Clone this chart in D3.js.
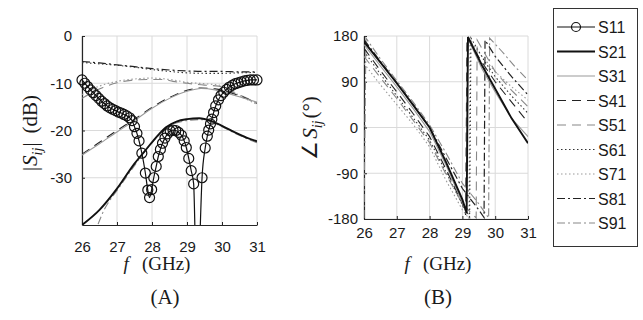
<html>
<head>
<script src="https://d3js.org/d3.v7.min.js"></script>
<style>
  body { margin: 0; background: #fff; }
  svg { display: block; }
  .tick text { font-family: "Liberation Sans", Arial, sans-serif; font-size: 15px; fill: #1a1a1a; }
  .ttl { font-family: "Liberation Serif", "Times New Roman", serif; font-size: 19px; fill: #1a1a1a; }
  .big { font-family: "Liberation Serif", "Times New Roman", serif; font-size: 21px; fill: #1a1a1a; }
  .leg { font-family: "Liberation Sans", Arial, sans-serif; font-size: 16px; fill: #1a1a1a; }
</style>
</head>
<body>
<div id="chart"></div>
<script>
// ---- data ----
var xTicks = [26, 27, 28, 29, 30, 31];
var magTicks = [0, -10, -20, -30];
var phaseTicks = [180, 90, 0, -90, -180];
var names = ["S11", "S21", "S31", "S41", "S51", "S61", "S71", "S81", "S91"];

// |S11| in dB, drawn with circles
var freqS11 = [26.00, 26.08, 26.16, 26.24, 26.32, 26.40, 26.48, 26.56, 26.64, 26.72,
  26.80, 26.88, 26.96, 27.04, 27.12, 27.20, 27.28, 27.36, 27.43, 27.50,
  27.57, 27.63, 27.71, 27.81, 27.88, 27.93, 27.99, 28.05, 28.12, 28.18,
  28.24, 28.30, 28.37, 28.44, 28.52, 28.60, 28.68, 28.76, 28.84, 28.92,
  28.98, 29.05, 29.12, 29.19, 29.24, 29.28, 29.32, 29.36, 29.43, 29.52,
  29.58, 29.62, 29.67, 29.71, 29.76, 29.82, 29.90, 29.97, 30.05, 30.13,
  30.21, 30.30, 30.38, 30.46, 30.55, 30.64, 30.72, 30.81, 30.90, 31.00];
var magS11 = [-9.3, -10.0, -10.7, -11.4, -12.0, -12.6, -13.2, -13.8, -14.3, -14.8,
  -15.2, -15.5, -15.8, -16.1, -16.3, -16.6, -16.9, -17.3, -17.9, -19.2,
  -20.6, -22.2, -24.8, -29.0, -32.6, -34.2, -32.5, -30.0, -27.6, -25.5,
  -24.0, -22.7, -21.6, -20.7, -20.1, -19.9, -20.0, -20.4, -21.0, -22.2,
  -23.6, -25.9, -28.5, -31.3, -45.0, -55.0, -55.0, -45.0, -30.0, -23.7,
  -21.2, -19.9, -18.6, -17.6, -16.2, -14.8, -13.5, -12.6, -11.9, -11.3,
  -10.8, -10.4, -10.1, -9.9, -9.7, -9.5, -9.4, -9.3, -9.3, -9.3];

// |Sn1| in dB as [f, dB]
var magS21 = [[26,-40],[26.5,-36.8],[27,-32.3],[27.5,-27],[27.8,-24.3],[28.1,-21.6],[28.4,-19.3],
  [28.7,-18.1],[29,-17.6],[29.35,-17.4],[29.7,-18],[30,-19],[30.4,-20.5],[30.7,-21.5],[31,-22.3]];
var magS31 = [[26,-25.2],[26.5,-22.8],[27,-20.3],[27.5,-17.9],[28,-15.3],[28.5,-13.2],[29,-11.7],
  [29.4,-11.1],[29.8,-11.4],[30.2,-12.2],[30.6,-13.1],[31,-14]];
var magS41 = [[26,-25],[26.5,-22.5],[27,-20],[27.5,-17.6],[28,-15.1],[28.5,-13],[29,-11.5],
  [29.4,-11],[29.8,-11.2],[30.2,-11.9],[30.6,-12.9],[31,-14.2]];
var magS51 = [[26,-13.2],[26.3,-11.9],[26.6,-10.9],[27,-9.9],[27.4,-9.4],[27.9,-9.2],[28.3,-9.2],
  [28.6,-9.6],[29,-10],[29.5,-10.4],[29.9,-10.6],[30.3,-11.9],[30.7,-13.1],[31,-14.3]];
var magS61 = [[26,-5.6],[26.5,-5.9],[27,-6.2],[27.5,-6.6],[28,-7.1],[28.5,-7.5],[29,-7.8],
  [29.5,-7.9],[30,-7.9],[30.5,-7.8],[31,-7.7]];
var magS71 = [[26,-12.4],[26.5,-10.6],[27,-9.6],[27.5,-9.1],[28,-8.9],[28.5,-9.2],[29,-9.8],
  [29.5,-10.1],[30,-10.5],[30.5,-12.6],[31,-14.5]];
var magS81 = [[26,-5.4],[26.5,-5.7],[27,-6.1],[27.5,-6.5],[28,-6.9],[28.5,-7.2],[29,-7.4],
  [29.5,-7.5],[30,-7.5],[30.5,-7.6],[31,-7.6]];
var magS91 = [[26.3,-43],[26.45,-40],[26.62,-37],[26.85,-34.2],[27.05,-32.2],[27.3,-29.5],[27.6,-26.4],
  [27.9,-23.4],[28.2,-21],[28.5,-19],[28.8,-18.2],[29.1,-17.8],[29.4,-17.7],[29.7,-18.2],
  [30,-19.2],[30.4,-20.7],[30.7,-21.7],[31,-22.6]];

// phase of Sn1 in degrees (wrapped) as [f, deg]
var phS21 = [[26,169],[26.5,128],[27,87],[27.5,44],[28,0],[28.5,-68],[29,-142],[29.13,-168],
  [29.17,178],[29.6,122],[30.08,67],[30.5,18],[31,-31]];
var phS31 = [[26,163],[26.5,121],[27,80],[27.5,37],[28,-8],[28.5,-74],[29,-148],[29.12,-170],
  [29.16,176],[29.6,115],[30,70],[30.5,18],[31,-18]];
var phS41 = [[26,156],[26.5,112],[27,70],[27.5,27],[28,-18],[28.5,-82],[29,-150],[29.1,-172],
  [29.14,178],[29.6,128],[30,90],[30.5,50],[31,10]];
var phS51 = [[26,140],[26.5,98],[27,57],[27.5,14],[28,-30],[28.5,-92],[29,-150],[29.42,-178],
  [29.45,172],[30,110],[30.5,73],[31,41]];
var phS61 = [[26,150],[26.5,105],[27,62],[27.5,19],[28,-25],[28.5,-88],[29,-152],[29.22,-176],
  [29.26,176],[29.7,128],[30,100],[30.5,62],[31,28]];
var phS71 = [[26,126],[26.5,84],[27,45],[27.5,6],[28,-38],[28.5,-104],[29,-162],[29.2,-179],
  [29.23,170],[29.6,140],[30,110],[30.5,80],[31,54]];
var phS81 = [[26,173],[26.5,130],[27,88],[27.5,45],[28,0],[28.5,-60],[29,-120],[29.5,-162],
  [29.66,-177],[29.69,172],[30,140],[30.5,100],[31,64]];
var phS91 = [[26,-178],[26.06,176],[26.5,135],[27,92],[27.5,50],[28,5],[28.5,-50],[29,-110],
  [29.5,-150],[29.8,-178],[29.83,176],[30.2,150],[30.6,120],[31,93]];

// ---- styles per series ----
var styles = {
  S11: {color: "#111", width: 1.2, dash: null},
  S21: {color: "#111", width: 1.9, dash: null},
  S31: {color: "#999", width: 1.1, dash: null},
  S41: {color: "#222", width: 1.1, dash: "9,6"},
  S51: {color: "#888", width: 1.1, dash: "9,6"},
  S61: {color: "#333", width: 1.1, dash: "1.5,2.5"},
  S71: {color: "#999", width: 1.1, dash: "1.5,2.5"},
  S81: {color: "#222", width: 1.2, dash: "8,3,2,3"},
  S91: {color: "#888", width: 1.1, dash: "8,3,2,3"}
};

var magSeries = [["S21", magS21], ["S31", magS31], ["S41", magS41], ["S51", magS51],
  ["S61", magS61], ["S71", magS71], ["S81", magS81], ["S91", magS91]];
var phSeries = [["S21", phS21], ["S31", phS31], ["S41", phS41], ["S51", phS51],
  ["S61", phS61], ["S71", phS71], ["S81", phS81], ["S91", phS91]];

var W = 643, H = 320;
var svg = d3.select("#chart").append("svg").attr("width", W).attr("height", H);

function panel(id, box, yDomain, yTicks, xPad, yPad) {
  var x = d3.scaleLinear().domain([26, 31]).range([box.x0, box.x1]);
  var y = d3.scaleLinear().domain(yDomain).range([box.y1, box.y0]);
  var g = svg.append("g");

  svg.append("clipPath").attr("id", id)
    .append("rect").attr("x", box.x0).attr("y", box.y0)
    .attr("width", box.x1 - box.x0).attr("height", box.y1 - box.y0);
  // markers may poke out sideways, but not below the axis
  svg.append("clipPath").attr("id", id + "m")
    .append("rect").attr("x", box.x0 - 10).attr("y", box.y0 - 10)
    .attr("width", box.x1 - box.x0 + 20).attr("height", box.y1 - box.y0 + 10);

  // grid
  g.selectAll(".gx").data(xTicks).enter().append("line")
    .attr("x1", function(d){ return x(d); }).attr("x2", function(d){ return x(d); })
    .attr("y1", box.y0).attr("y2", box.y1)
    .attr("stroke", "#dadada").attr("stroke-width", 1);
  g.selectAll(".gy").data(yTicks).enter().append("line")
    .attr("y1", function(d){ return y(d); }).attr("y2", function(d){ return y(d); })
    .attr("x1", box.x0).attr("x2", box.x1)
    .attr("stroke", "#dadada").attr("stroke-width", 1);

  var xa = g.append("g").attr("transform", "translate(0," + box.y1 + ")")
    .call(d3.axisBottom(x).tickValues(xTicks).tickSizeInner(-3).tickSizeOuter(0)
      .tickPadding(xPad).tickFormat(function(d){ return String(d); }));
  var ya = g.append("g").attr("transform", "translate(" + box.x0 + ",0)")
    .call(d3.axisLeft(y).tickValues(yTicks).tickSizeInner(-3).tickSizeOuter(0)
      .tickPadding(yPad).tickFormat(function(d){ return String(d); }));
  [xa, ya].forEach(function(a){
    a.select(".domain").attr("stroke", "#262626").attr("stroke-width", 1.2);
    a.selectAll(".tick line").attr("stroke", "#262626");
  });

  var plot = g.append("g").attr("clip-path", "url(#" + id + ")");
  var marks = g.append("g").attr("clip-path", "url(#" + id + "m)");
  return {x: x, y: y, plot: plot, marks: marks};
}

// (A) magnitude
var A = panel("clipA", {x0: 82, x1: 257, y0: 36, y1: 225}, [-40, 0], magTicks, 16, 10);
var lineA = d3.line().x(function(d){ return A.x(d[0]); }).y(function(d){ return A.y(d[1]); })
  .curve(d3.curveMonotoneX);

magSeries.slice().reverse().forEach(function(s){
  var st = styles[s[0]];
  A.plot.append("path").datum(s[1]).attr("d", lineA)
    .attr("fill", "none").attr("stroke", st.color).attr("stroke-width", st.width)
    .attr("stroke-dasharray", st.dash);
});

var s11 = freqS11.map(function(f, i){ return [f, magS11[i]]; });
A.plot.append("path").datum(s11).attr("d", lineA)
  .attr("fill", "none").attr("stroke", "#111").attr("stroke-width", 1.2);
A.marks.selectAll("circle.s11").data(s11).enter().append("circle")
  .attr("cx", function(d){ return A.x(d[0]); })
  .attr("cy", function(d){ return A.y(d[1]); })
  .attr("r", 5).attr("fill", "none").attr("stroke", "#111").attr("stroke-width", 1.2);

// (B) phase
var B = panel("clipB", {x0: 364, x1: 528, y0: 36, y1: 219}, [-180, 180], phaseTicks, 8.5, 6);
var lineB = d3.line().x(function(d){ return B.x(d[0]); }).y(function(d){ return B.y(d[1]); });

phSeries.slice().reverse().forEach(function(s){
  var st = styles[s[0]];
  B.plot.append("path").datum(s[1]).attr("d", lineB)
    .attr("fill", "none").attr("stroke", st.color).attr("stroke-width", st.width)
    .attr("stroke-dasharray", st.dash);
});

// axis titles
function xTitle(cx, by) {
  var t = svg.append("text").attr("class", "ttl").attr("x", cx).attr("y", by)
    .attr("text-anchor", "middle");
  t.append("tspan").attr("font-style", "italic").text("f");
  t.append("tspan").attr("dx", 13).text("(GHz)");
}
xTitle(157, 270);
xTitle(438, 270);
svg.append("text").attr("class", "big").attr("x", 165).attr("y", 304)
  .attr("text-anchor", "middle").text("(A)");
svg.append("text").attr("class", "big").attr("x", 438).attr("y", 304)
  .attr("text-anchor", "middle").text("(B)");

var yl = svg.append("text").attr("class", "big")
  .attr("transform", "translate(37,133) rotate(-90)").attr("text-anchor", "middle");
yl.append("tspan").text("|");
yl.append("tspan").attr("font-style", "italic").attr("dx", 1).text("S");
yl.append("tspan").attr("font-style", "italic").attr("font-size", "14px").attr("dy", 5).text("ij");
yl.append("tspan").attr("dy", -5).attr("dx", 1).text("|");
yl.append("tspan").attr("dx", 9).text("(dB)");

var yr = svg.append("text").attr("class", "big")
  .attr("transform", "translate(317,128) rotate(-90)").attr("text-anchor", "middle");
yr.append("tspan").text("\u2220");
yr.append("tspan").attr("font-style", "italic").attr("dx", 2).text("S");
yr.append("tspan").attr("font-style", "italic").attr("font-size", "14px").attr("dy", 5).text("ij");
yr.append("tspan").attr("dy", -5).attr("dx", 2).text("(\u00b0)");

// legend
var leg = svg.append("g");
leg.append("rect").attr("x", 553.5).attr("y", 8.5).attr("width", 84).attr("height", 238)
  .attr("fill", "#fff").attr("stroke", "#333").attr("stroke-width", 1);
var ly = d3.scalePoint().domain(names).range([27, 223]);
names.forEach(function(n){
  var st = styles[n];
  var yy = ly(n);
  leg.append("line").attr("x1", 557).attr("x2", 595).attr("y1", yy).attr("y2", yy)
    .attr("stroke", st.color).attr("stroke-width", st.width).attr("stroke-dasharray", st.dash);
  if (n === "S11") {
    leg.append("circle").attr("cx", 576).attr("cy", yy).attr("r", 4.5)
      .attr("fill", "none").attr("stroke", "#111").attr("stroke-width", 1.2);
  }
  leg.append("text").attr("class", "leg").attr("x", 598).attr("y", yy + 6).text(n);
});
</script>
</body>
</html>
